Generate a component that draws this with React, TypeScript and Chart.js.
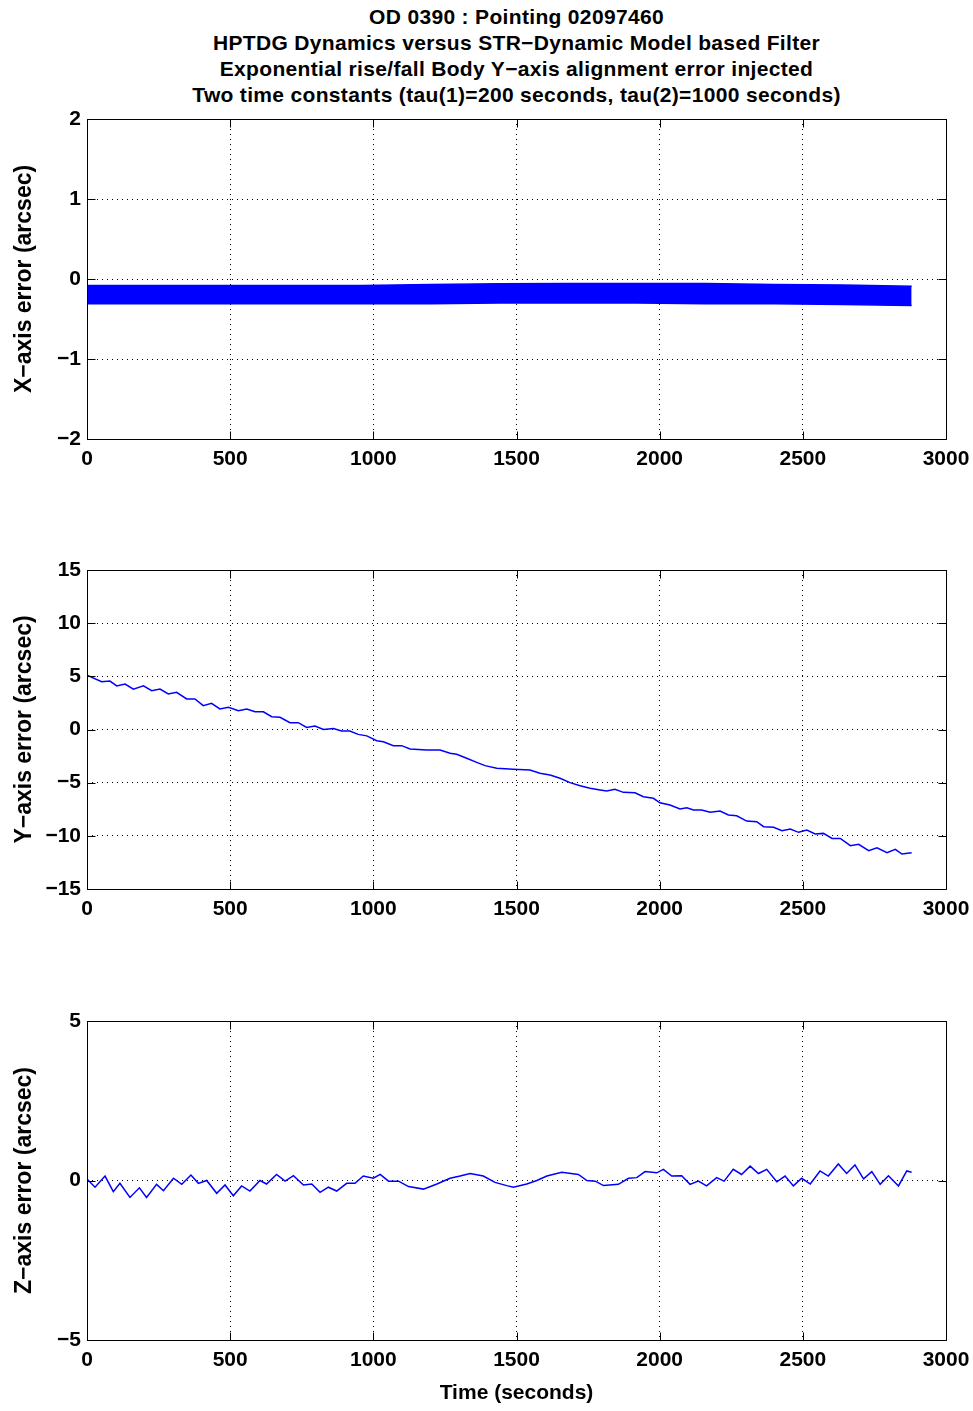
import React, { useEffect, useRef } from "react";
import { Chart, registerables } from "chart.js";

Chart.register(...registerables);

// ---------- data ----------
const titleLines = [
  "OD 0390 : Pointing 02097460",
  "HPTDG Dynamics versus STR\u2212Dynamic Model based Filter",
  "Exponential rise/fall Body Y\u2212axis alignment error injected",
  "Two time constants (tau(1)=200 seconds, tau(2)=1000 seconds)",
];

const xAxisTitle = "Time (seconds)";
const yTitles = ["X\u2212axis error (arcsec)", "Y\u2212axis error (arcsec)", "Z\u2212axis error (arcsec)"];

// X-axis error: dense high-frequency band, drawn as its upper/lower envelope
const xBandTime = [0, 240, 480, 720, 960, 1200, 1440, 1680, 1920, 2160, 2400, 2640, 2880];
const xBandUpper = [-0.08, -0.08, -0.08, -0.08, -0.08, -0.07, -0.06, -0.055, -0.055, -0.055, -0.07, -0.075, -0.09];
const xBandLower = [-0.31, -0.31, -0.31, -0.31, -0.31, -0.31, -0.3, -0.3, -0.3, -0.31, -0.31, -0.32, -0.33];

const yTime = [0, 51, 80, 104, 133, 162, 197, 226, 255, 284, 313, 348, 377, 406, 435, 464, 494, 529, 558, 587, 616, 645, 674, 709, 738, 767, 796, 826, 861, 889, 918, 947, 977, 1012, 1035, 1070, 1099, 1128, 1186, 1233, 1268, 1291, 1326, 1361, 1390, 1431, 1489, 1547, 1582, 1617, 1652, 1687, 1722, 1757, 1792, 1815, 1844, 1873, 1914, 1943, 1978, 2001, 2036, 2071, 2095, 2118, 2147, 2176, 2211, 2240, 2269, 2304, 2339, 2363, 2398, 2427, 2456, 2485, 2514, 2543, 2572, 2602, 2631, 2666, 2695, 2730, 2759, 2794, 2823, 2846, 2880];
const yValues = [5.1, 4.5, 4.55, 4.1, 4.28, 3.8, 4.1, 3.65, 3.8, 3.34, 3.5, 2.87, 2.87, 2.24, 2.46, 1.93, 2.09, 1.77, 1.93, 1.67, 1.67, 1.2, 1.15, 0.64, 0.64, 0.2, 0.33, 0.0, 0.1, -0.14, -0.14, -0.46, -0.6, -1.05, -1.15, -1.52, -1.52, -1.83, -1.93, -1.93, -2.24, -2.33, -2.71, -3.09, -3.4, -3.65, -3.74, -3.81, -4.12, -4.28, -4.59, -5.0, -5.29, -5.53, -5.69, -5.79, -5.63, -5.91, -5.95, -6.32, -6.47, -6.89, -7.1, -7.48, -7.36, -7.57, -7.57, -7.79, -7.67, -8.04, -8.11, -8.61, -8.67, -9.14, -9.2, -9.52, -9.36, -9.67, -9.45, -9.83, -9.77, -10.24, -10.24, -10.93, -10.8, -11.4, -11.12, -11.59, -11.27, -11.71, -11.59];

const zTime = [0, 28, 63, 92, 115, 150, 183, 208, 243, 267, 302, 331, 363, 389, 418, 453, 482, 511, 540, 569, 604, 627, 662, 692, 721, 756, 785, 814, 843, 872, 907, 936, 965, 1000, 1024, 1053, 1088, 1123, 1175, 1222, 1268, 1303, 1338, 1384, 1425, 1466, 1489, 1536, 1571, 1606, 1658, 1716, 1746, 1775, 1804, 1856, 1891, 1920, 1949, 1990, 2013, 2042, 2077, 2106, 2135, 2164, 2199, 2225, 2257, 2286, 2316, 2345, 2374, 2409, 2438, 2467, 2496, 2526, 2560, 2589, 2624, 2653, 2682, 2712, 2741, 2770, 2799, 2834, 2863, 2880];
const zValues = [0.05, -0.21, 0.14, -0.35, -0.09, -0.53, -0.23, -0.53, -0.12, -0.32, 0.07, -0.12, 0.17, -0.09, 0.0, -0.4, -0.14, -0.48, -0.17, -0.33, 0.0, -0.11, 0.19, -0.02, 0.15, -0.14, -0.11, -0.37, -0.21, -0.33, -0.09, -0.09, 0.14, 0.07, 0.19, -0.02, -0.02, -0.19, -0.27, -0.11, 0.07, 0.14, 0.22, 0.14, -0.06, -0.16, -0.21, -0.11, 0.0, 0.14, 0.26, 0.19, 0.0, -0.02, -0.16, -0.12, 0.07, 0.09, 0.28, 0.24, 0.35, 0.14, 0.15, -0.12, -0.02, -0.17, 0.09, -0.02, 0.35, 0.19, 0.45, 0.22, 0.35, -0.04, 0.14, -0.17, 0.07, -0.11, 0.3, 0.14, 0.52, 0.22, 0.49, 0.05, 0.28, -0.12, 0.15, -0.17, 0.3, 0.26];

const xRange = [0, 3000];
const xStep = 500;
const yRanges = [[-2, 2], [-15, 15], [-5, 5]];
const ySteps = [1, 5, 5];

// ---------- styling ----------
const FONT = '"Liberation Sans", Arial, Helvetica, sans-serif';
const FONT_SIZE = 21;
const BLUE = "#0000ff";

const fmt = (v: number) => String(v).replace("-", "\u2212");
const pts = (t: number[], v: number[]) => t.map((x, i) => ({ x, y: v[i] }));

const matlabAxes = {
  id: "matlabAxes",
  afterDraw(chart: any) {
    const { ctx, chartArea: a, scales } = chart;
    const L = 8;
    ctx.save();
    ctx.strokeStyle = "#000";
    ctx.lineWidth = 1;
    ctx.setLineDash([]);
    ctx.beginPath();
    const l = Math.round(a.left) + 0.5, r = Math.round(a.right) + 0.5;
    const t = Math.round(a.top) + 0.5, b = Math.round(a.bottom) + 0.5;
    scales.x.ticks.forEach((tk: any) => {
      const p = Math.round(scales.x.getPixelForValue(tk.value)) + 0.5;
      ctx.moveTo(p, b); ctx.lineTo(p, b - L);
      ctx.moveTo(p, t); ctx.lineTo(p, t + L);
    });
    scales.y.ticks.forEach((tk: any) => {
      const p = Math.round(scales.y.getPixelForValue(tk.value)) + 0.5;
      ctx.moveTo(l, p); ctx.lineTo(l + L, p);
      ctx.moveTo(r, p); ctx.lineTo(r - L, p);
    });
    ctx.rect(l, t, r - l, b - t);
    ctx.stroke();
    ctx.restore();
  },
};

type PanelProps = {
  top: number;
  areaH: number;
  xScaleH: number;
  padBottom: number;
  datasets: any[];
  yRange: number[];
  yStep: number;
  yTitle: string;
  xTitle?: string;
};

function Panel({ top, areaH, xScaleH, padBottom, datasets, yRange, yStep, yTitle, xTitle }: PanelProps) {
  const ref = useRef<HTMLCanvasElement | null>(null);
  const padTop = 20;
  const h = padTop + areaH + xScaleH + padBottom;
  useEffect(() => {
    if (!ref.current) return;
    const font = { family: FONT, size: FONT_SIZE, weight: "bold" as const };
    const yTitleFont = { family: FONT, size: 23, weight: "bold" as const };
    const chart = new Chart(ref.current, {
      type: "line",
      data: { datasets },
      options: {
        responsive: false,
        animation: false,
        devicePixelRatio: 1,
        layout: { padding: { left: 0, right: 27, top: padTop, bottom: padBottom } },
        plugins: { legend: { display: false }, tooltip: { enabled: false }, title: { display: false } },
        elements: { point: { radius: 0 }, line: { tension: 0 } },
        scales: {
          x: {
            type: "linear",
            min: xRange[0],
            max: xRange[1],
            border: { display: false, dash: [1, 4] },
            grid: { color: "#000", lineWidth: 1, drawTicks: false },
            ticks: { stepSize: xStep, padding: 8, color: "#000", font, maxRotation: 0, autoSkip: false, callback: (v: any) => fmt(v) },
            title: xTitle
              ? { display: true, text: xTitle, color: "#000", font, padding: { top: 0, bottom: 0 } }
              : { display: false },
            afterFit: (s: any) => {
              s.height = xScaleH;
              s.paddingLeft = 0;
              s.paddingRight = 0;
            },
          },
          y: {
            type: "linear",
            min: yRange[0],
            max: yRange[1],
            border: { display: false, dash: [1, 4] },
            grid: { color: "#000", lineWidth: 1, drawTicks: false },
            ticks: { stepSize: yStep, padding: 6, color: "#000", font, autoSkip: false, callback: (v: any) => fmt(v) },
            title: { display: true, text: yTitle, color: "#000", font: yTitleFont, padding: { top: 11, bottom: 0 } },
            afterFit: (s: any) => {
              s.width = 87;
              s.paddingTop = 0;
              s.paddingBottom = 0;
            },
          },
        },
      },
      plugins: [matlabAxes],
    });
    return () => chart.destroy();
  }, []);
  return (
    <canvas
      ref={ref}
      width={973}
      height={h}
      style={{ position: "absolute", left: 0, top: top - padTop, width: 973, height: h }}
    />
  );
}

export default function App() {
  const lineDs = (data: any[]) => ({
    data,
    borderColor: BLUE,
    borderWidth: 1.5,
    pointRadius: 0,
    fill: false,
  });
  const topDatasets = [
    { data: pts(xBandTime, xBandLower), borderColor: BLUE, borderWidth: 1.5, pointRadius: 0, fill: false },
    { data: pts(xBandTime, xBandUpper), borderColor: BLUE, borderWidth: 1.5, pointRadius: 0, fill: "-1", backgroundColor: BLUE },
  ];
  return (
    <div style={{ position: "absolute", left: 0, top: 0, width: 973, height: 1411, background: "#fff" }}>
      {titleLines.map((s, i) => (
        <div
          key={i}
          style={{
            position: "absolute",
            left: 0,
            width: 1033,
            top: 4 + i * 26,
            height: 26,
            lineHeight: "26px",
            textAlign: "center",
            fontFamily: FONT,
            fontSize: FONT_SIZE,
            fontWeight: "bold",
            letterSpacing: "0.33px",
            color: "#000",
            whiteSpace: "nowrap",
          }}
        >
          {s}
        </div>
      ))}
      <Panel top={119} areaH={320} xScaleH={40} padBottom={10} datasets={topDatasets} yRange={yRanges[0]} yStep={ySteps[0]} yTitle={yTitles[0]} />
      <Panel top={570} areaH={319} xScaleH={40} padBottom={10} datasets={[lineDs(pts(yTime, yValues))]} yRange={yRanges[1]} yStep={ySteps[1]} yTitle={yTitles[1]} />
      <Panel top={1021} areaH={319} xScaleH={66} padBottom={4} datasets={[lineDs(pts(zTime, zValues))]} yRange={yRanges[2]} yStep={ySteps[2]} yTitle={yTitles[2]} xTitle={xAxisTitle} />
    </div>
  );
}
